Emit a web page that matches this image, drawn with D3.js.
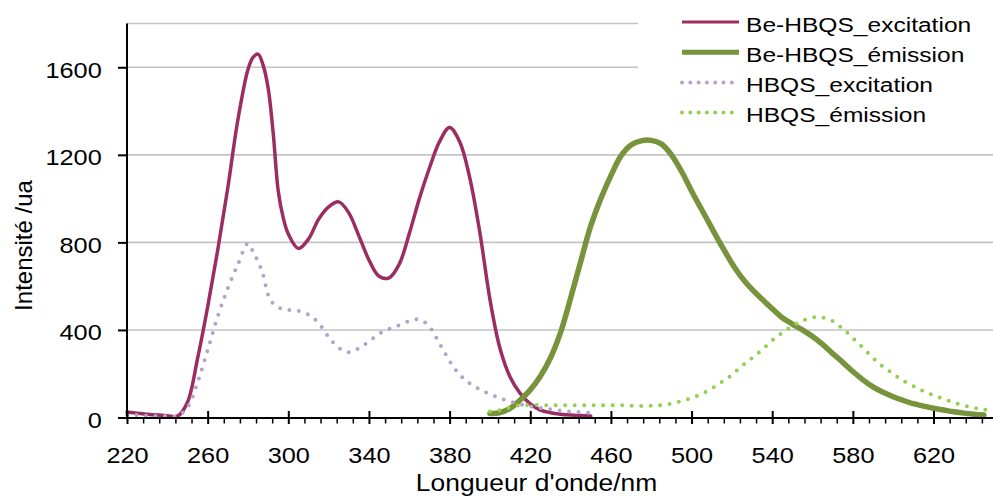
<!DOCTYPE html>
<html>
<head>
<meta charset="utf-8">
<script src="https://cdn.jsdelivr.net/npm/d3@7"></script>
<style>
    body { margin: 0; background: #fff; }
    text { font-family: "Liberation Sans", Arial, sans-serif; fill: #000; }
</style>
</head>
<body>
<div id="chart"></div>
<script>
// wavelengths (nm)
var excitationNm = [220, 225, 230, 235, 240, 245, 250, 255, 260, 265, 270, 275, 280, 282.5, 285, 287.5,
    290, 292.5, 295, 297.5, 300, 305, 310, 315, 320, 325, 330, 335, 340, 345, 350, 355, 360, 365, 370, 375,
    380, 385, 390, 395, 400, 405, 410, 415, 420, 425, 430, 435, 440, 445, 450];
var emissionNm = [400, 405, 410, 415, 420, 425, 430, 435, 440, 445, 450, 455, 460, 465, 470, 475,
    480, 485, 490, 495, 500, 505, 510, 515, 520, 525, 530, 535, 540, 545, 550, 555, 560, 565, 570, 575,
    580, 585, 590, 595, 600, 605, 610, 615, 620, 625, 630, 635, 640, 645, 650];

// intensities (ua)
var beExcitation = [25, 20, 15, 11, 8, 6, 70, 270, 505, 765, 1050, 1360, 1590, 1645, 1660, 1610,
    1505, 1300, 1035, 912, 838, 772, 815, 905, 962, 985, 935, 830, 720, 645, 638, 700, 840, 1000, 1140, 1260,
    1325, 1260, 1095, 845, 540, 315, 185, 110, 62, 34, 22, 15, 11, 9, 7];
var hbqsExcitation = [15, 11, 8, 7, 7, 7, 47, 160, 308, 462, 590, 700, 795, 758, 712, 652,
    560, 520, 503, 496, 492, 487, 470, 432, 368, 318, 298, 316, 347, 382, 405, 422, 440, 448, 415, 338,
    258, 195, 155, 128, 106, 88, 73, 60, 51, 44, 37, 31, 27, 24, 21];
var beEmission = [18, 22, 42, 80, 126, 188, 272, 388, 545, 712, 875, 1000, 1105, 1195, 1245, 1264,
    1266, 1250, 1200, 1125, 1035, 950, 866, 783, 705, 638, 585, 540, 497, 456, 427, 400, 370, 334, 292, 252,
    210, 172, 140, 115, 95, 78, 63, 52, 42, 34, 26, 20, 15, 11];
var hbqsEmission = [27, 34, 47, 57, 57, 57, 56, 56, 56, 56, 56, 56, 56, 56, 54, 53,
    54, 57, 63, 75, 89, 108, 132, 162, 195, 235, 272, 310, 352, 388, 418, 442, 457, 457, 440, 405,
    363, 318, 272, 232, 200, 168, 144, 120, 101, 85, 69, 55, 44, 36, 30];

var seriesNames = ["Be-HBQS_excitation", "Be-HBQS_émission", "HBQS_excitation", "HBQS_émission"];
var xTicks = [220, 260, 300, 340, 380, 420, 460, 500, 540, 580, 620];
var yTicks = [0, 400, 800, 1200, 1600];
var yGrid = [400, 800, 1200, 1600, 1800];

var svgWidth = 993;
var svgHeight = 498;

var plot = { left: 127, right: 994, top: 23.5, bottom: 417.5 };

var svg = d3.select("#chart")
    .append("svg")
    .attr("width", svgWidth)
    .attr("height", svgHeight)
    .style("display", "block");

var xScale = d3.scaleLinear().domain([220, 650]).range([plot.left, plot.right]);
var yScale = d3.scaleLinear().domain([0, 1800]).range([plot.bottom, plot.top]);

// gridlines
svg.append("g")
    .selectAll("line")
    .data(yGrid)
    .enter()
    .append("line")
    .attr("x1", plot.left)
    .attr("x2", plot.right)
    .attr("y1", d => yScale(d))
    .attr("y2", d => yScale(d))
    .attr("stroke", "#c4c4c4")
    .attr("stroke-width", 1.6);

function pairs(nm, vals) {
    return vals.map((v, i) => [nm[i], v]);
}

var series = [
    { name: seriesNames[0], data: pairs(excitationNm, beExcitation), color: "#9b2d63", width: 3.5, dash: null },
    { name: seriesNames[1], data: pairs(emissionNm, beEmission), color: "#77933c", width: 5.5, dash: null },
    { name: seriesNames[2], data: pairs(excitationNm, hbqsExcitation), color: "#b4a3ca", width: 4, dash: "0 9.5" },
    { name: seriesNames[3], data: pairs(emissionNm, hbqsEmission), color: "#92d050", width: 4, dash: "0 9.5" }
];

var line = d3.line()
    .x(d => xScale(d[0]))
    .y(d => yScale(Math.max(d[1], 0)))
    .curve(d3.curveCatmullRom.alpha(0.5));

series.forEach(function(s) {
    svg.append("path")
        .datum(s.data)
        .attr("d", line)
        .attr("fill", "none")
        .attr("stroke", s.color)
        .attr("stroke-width", s.width)
        .attr("stroke-linecap", "round")
        .attr("stroke-linejoin", "round")
        .attr("stroke-dasharray", s.dash);
});

// x axis: minor ticks every 8 nm, majors crossing the line
var minorTicks = d3.range(228, 650, 8).filter(d => (d - 220) % 40 !== 0);

svg.append("g")
    .attr("transform", `translate(0, ${plot.bottom})`)
    .call(d3.axisBottom(xScale).tickValues(minorTicks).tickSize(6).tickSizeOuter(0).tickFormat(""))
    .call(g => g.select(".domain").remove())
    .call(g => g.selectAll("line").attr("stroke", "#000").attr("stroke-width", 1.5));

var xAxis = svg.append("g")
    .attr("transform", `translate(0, ${plot.bottom})`)
    .call(d3.axisBottom(xScale).tickValues(xTicks).tickSize(6.5).tickSizeOuter(0).tickFormat(d3.format("d")));

xAxis.select(".domain").attr("stroke", "#000").attr("stroke-width", 2);
xAxis.selectAll(".tick line").attr("y1", -6.5).attr("stroke", "#000").attr("stroke-width", 2);
xAxis.selectAll(".tick text")
    .attr("y", 46)
    .attr("dy", 0)
    .attr("transform", "scale(1.15,1)")
    .style("font-size", "22px")
    .style("font-family", "Liberation Sans, Arial, sans-serif");

// y axis
var yAxis = svg.append("g")
    .attr("transform", `translate(${plot.left}, 0)`)
    .call(d3.axisLeft(yScale).tickValues(yTicks).tickSize(9).tickSizeOuter(0).tickFormat(d3.format("d")));

yAxis.select(".domain")
    .attr("d", `M0,${plot.top}V${plot.bottom}`)
    .attr("stroke", "#000")
    .attr("stroke-width", 2);
yAxis.selectAll(".tick line").attr("stroke", "#000").attr("stroke-width", 2);
yAxis.selectAll(".tick text")
    .attr("x", -25.3 / 1.15)
    .attr("dy", 10)
    .attr("transform", "scale(1.15,1)")
    .style("font-size", "22px")
    .style("font-family", "Liberation Sans, Arial, sans-serif");

// axis titles
svg.append("text")
    .attr("transform", "translate(536.5, 490.5) scale(1.1,1)")
    .attr("text-anchor", "middle")
    .style("font-size", "24px")
    .text("Longueur d'onde/nm");

svg.append("text")
    .attr("transform", "translate(23, 245.5) rotate(-90)")
    .attr("text-anchor", "middle")
    .attr("dy", "0.36em")
    .style("font-size", "24px")
    .text("Intensité /ua");

// legend
var legend = svg.append("g");

legend.append("rect")
    .attr("x", 638)
    .attr("y", 0)
    .attr("width", 360)
    .attr("height", 128)
    .attr("fill", "#fff");

var legendRows = legend.selectAll("g.row")
    .data(series)
    .enter()
    .append("g")
    .attr("class", "row")
    .attr("transform", (d, i) => `translate(0, ${22 + i * 30.2})`);

legendRows.append("line")
    .attr("x1", 682)
    .attr("x2", 739)
    .attr("y1", 0)
    .attr("y2", 0)
    .attr("stroke", d => d.color)
    .attr("stroke-width", d => d.dash ? 4 : d.width - 0.5)
    .attr("stroke-linecap", d => d.dash ? "round" : "butt")
    .attr("stroke-dasharray", d => d.dash ? "0 8.3" : null);

legendRows.append("text")
    .attr("transform", "translate(746, 9.5) scale(1.17,1)")
    .style("font-size", "21px")
    .text(d => d.name);
</script>
</body>
</html>
